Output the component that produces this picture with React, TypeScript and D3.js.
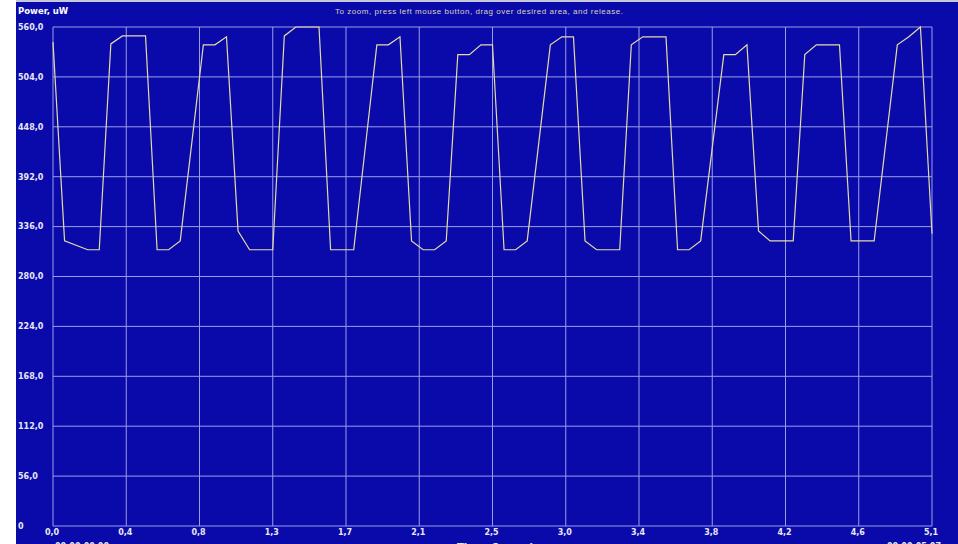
import React from "react";
import * as d3 from "d3";

const times: number[] = [
  0, 0.0667, 0.2001, 0.2668, 0.3336, 0.4003, 0.5337, 0.6004, 0.6671, 0.7338,
  0.8672, 0.934, 1.0007, 1.0674, 1.1341, 1.2675, 1.3342, 1.4009, 1.5344, 1.6011,
  1.7345, 1.8679, 1.9346, 2.0013, 2.068, 2.1348, 2.2015, 2.2682, 2.3349, 2.4016,
  2.4683, 2.535, 2.6017, 2.6684, 2.7352, 2.8686, 2.9353, 3.002, 3.0687, 3.1354,
  3.2688, 3.3356, 3.4023, 3.5357, 3.6024, 3.6691, 3.7358, 3.8692, 3.9359, 4.0027,
  4.0694, 4.1361, 4.2695, 4.3362, 4.4029, 4.5363, 4.6031, 4.7365, 4.8699, 4.9366,
  5.0033, 5.07,
];
const power: number[] = [
  543, 320, 310, 310, 541, 550, 550, 310, 310, 320,
  540, 540, 549, 331, 310, 310, 550, 560, 560, 310,
  310, 540, 540, 549, 320, 310, 310, 320, 529, 529,
  540, 540, 310, 310, 320, 540, 549, 549, 320, 310,
  310, 540, 549, 549, 310, 310, 320, 529, 529, 540,
  331, 320, 320, 529, 540, 540, 320, 320, 540, 549,
  560, 328,
];
const yTicks: number[] = [0, 56, 112, 168, 224, 280, 336, 392, 448, 504, 560];
const yTickLabels: string[] = ["0", "56,0", "112,0", "168,0", "224,0", "280,0", "336,0", "392,0", "448,0", "504,0", "560,0"];
const xTickLabels: string[] = ["0,0", "0,4", "0,8", "1,3", "1,7", "2,1", "2,5", "3,0", "3,4", "3,8", "4,2", "4,6", "5,1"];
const xMax = 5.07;
const startLabel = "00:00:00.00";
const endLabel = "00:00:05.07";
const xTitle = "Time, Seconds";
const yTitle = "Power, uW";
const hint = "To zoom, press left mouse button, drag over desired area, and release.";

export default function App() {
  const W = 958, H = 544;
  const left = 53, right = 932, top = 27, bottom = 526;
  const x = d3.scaleLinear().domain([0, xMax]).range([left, right]);
  const y = d3.scaleLinear().domain([0, 560]).range([bottom, top]);
  const xTicks = xTickLabels.map((_, i) => (i * xMax) / (xTickLabels.length - 1));
  const line = d3
    .line<number>()
    .x((_, i) => x(times[i]))
    .y((d) => y(d));
  const bg = "#0a0aab";
  const grid = "#9c9ce8";
  const font = "'DejaVu Sans', Verdana, sans-serif";
  return (
    <svg width={W} height={H} style={{ position: "absolute", left: 0, top: 0 }}>
      <rect x={0} y={0} width={W} height={H} fill="#ffffff" />
      <rect x={16} y={0} width={W - 16} height={2} fill="#c8c8dc" />
      <rect x={16} y={2} width={W - 16} height={H - 2} fill={bg} />
      {yTicks.map((t) => (
        <line key={"gy" + t} x1={left} x2={right} y1={y(t)} y2={y(t)} stroke={grid} strokeWidth={1} />
      ))}
      {xTicks.map((t, i) => (
        <line key={"gx" + i} x1={x(t)} x2={x(t)} y1={top} y2={bottom} stroke={grid} strokeWidth={1} />
      ))}
      <path d={line(power) || ""} fill="none" stroke="#e4dca6" strokeWidth={1.2} />
      {yTicks.map((t, i) => (
        <text key={"ly" + t} x={18} y={y(t)} dy="0.35em" fill="#e8e8f4" fontFamily={font} fontWeight="bold" fontSize={8}>
          {yTickLabels[i]}
        </text>
      ))}
      {xTicks.map((t, i) => (
        <text key={"lx" + i} x={x(t) - 1} y={532} dy="0.35em" textAnchor="middle" fill="#e8e8f4" fontFamily={font} fontWeight="bold" fontSize={8}>
          {xTickLabels[i]}
        </text>
      ))}
      <text x={18} y={11} dy="0.35em" fill="#ffffff" fontFamily={font} fontWeight="bold" fontSize={8.5}>
        {yTitle}
      </text>
      <text x={479} y={11} dy="0.35em" textAnchor="middle" fill="#d8d4b0" fontFamily="'Liberation Sans', Arial, sans-serif" fontSize={8} textLength={288}>
        {hint}
      </text>
      <text x={55} y={549} fill="#e8e8f4" fontFamily={font} fontWeight="bold" fontSize={8}>
        {startLabel}
      </text>
      <text x={887} y={549} fill="#e8e8f4" fontFamily={font} fontWeight="bold" fontSize={8}>
        {endLabel}
      </text>
      <text x={457} y={551} fill="#e8e8f4" fontFamily={font} fontWeight="bold" fontSize={10}>
        {xTitle}
      </text>
    </svg>
  );
}
